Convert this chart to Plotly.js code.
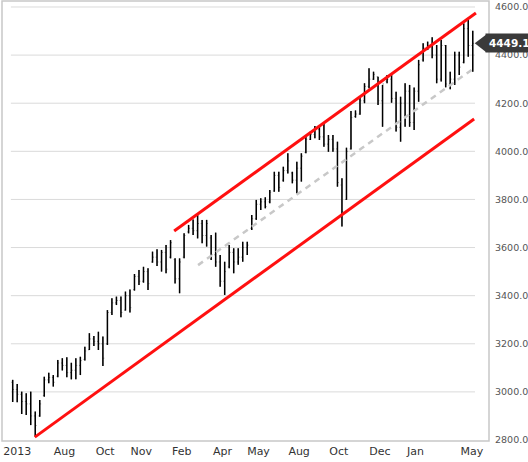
<!DOCTYPE html>
<html>
<head>
<meta charset="utf-8">
<script src="https://cdn.plot.ly/plotly-3.0.1.min.js"></script>
<style>
  html, body { margin: 0; padding: 0; background: #ffffff; }
  #chart { width: 528px; height: 462px; }
</style>
</head>
<body>
<div id="chart"></div>
<script>
// Weekly bars, index 0..102
var highs = [3050,3033,3001,2994,3001,2918,2966,3063,3080,3070,
             3133,3140,3144,3121,3140,3146,3188,3244,3232,3250,
             3230,3340,3389,3396,3396,3417,3426,3490,3507,3520,
             3514,3583,3593,3590,3611,3631,3555,3555,3659,3694,
             3717,3735,3715,3715,3652,3662,3569,3541,3611,3597,
             3597,3624,3624,3735,3798,3805,3809,3839,3915,3915,
             3936,3992,3915,3957,3992,4064,4082,4105,4102,4117,
             4068,4068,4040,3888,4015,4168,4170,4225,4283,4345,
             4331,4310,4276,4317,4317,4248,4227,4283,4276,4265,
             4380,4449,4456,4474,4442,4463,4442,4331,4414,4414,
             4532,4546,4501];
var lows  = [2958,2957,2908,2904,2862,2814,2897,2980,3036,3022,
             3061,3089,3061,3052,3052,3070,3130,3174,3191,3174,
             3108,3195,3320,3361,3310,3338,3330,3421,3444,3454,
             3424,3537,3523,3500,3493,3555,3451,3410,3555,3659,
             3652,3638,3618,3604,3548,3520,3437,3403,3514,3493,
             3528,3541,3569,3673,3715,3756,3763,3784,3832,3832,
             3874,3908,3867,3825,3874,3992,4047,4054,4047,4019,
             3998,3998,3853,3687,3798,4008,4140,4152,4200,4262,
             4297,4193,4102,4283,4202,4082,4040,4102,4102,4089,
             4206,4373,4421,4387,4283,4290,4266,4258,4276,4317,
             4366,4393,4331];
var opens = [3040,3010,2990,2960,2950,2900,2900,2985,3050,3060,
             3065,3120,3110,3080,3090,3110,3135,3175,3220,3210,
             3200,3200,3330,3370,3380,3340,3400,3425,3480,3460,
             3500,3540,3560,3540,3580,3560,3550,3470,3560,3665,
             3680,3670,3700,3650,3640,3570,3540,3460,3520,3580,
             3540,3560,3600,3680,3720,3780,3790,3790,3835,3900,
             3880,3920,3910,3880,3930,3995,4050,4070,4090,4060,
             4030,4050,4010,3860,3800,4010,4145,4155,4210,4270,
             4300,4310,4210,4290,4300,4220,4100,4200,4250,4120,
             4250,4380,4430,4440,4400,4300,4440,4280,4300,4400,
             4370,4510,4440];
var closes = [3010,2990,2960,2950,2900,2860,2950,3050,3060,3040,
              3120,3110,3080,3090,3110,3130,3170,3220,3210,3200,
              3140,3330,3370,3380,3330,3400,3350,3480,3460,3500,
              3450,3560,3540,3580,3510,3620,3470,3540,3650,3680,
              3670,3700,3650,3700,3570,3540,3460,3500,3580,3540,
              3560,3600,3610,3720,3780,3790,3770,3830,3900,3850,
              3920,3960,3880,3930,3980,4050,4070,4090,4060,4030,
              4050,4010,3870,3750,4000,4140,4155,4210,4270,4300,
              4320,4210,4280,4300,4220,4100,4200,4250,4120,4250,
              4360,4430,4440,4400,4300,4440,4280,4300,4400,4350,
              4510,4440,4449.1];

var tickWeeks  = [1, 11.5, 20.5, 28.5, 37.5, 46.5, 54.5, 63.5, 72.3, 81.4, 89.3, 101.8];
var tickLabels = ["2013","Aug","Oct","Nov","Feb","Apr","May","Aug","Oct","Dec","Jan","May"];

var priceLevels = [2800,3000,3200,3400,3600,3800,4000,4200,4400,4600];

// Channel lines (week index, price)
var upperX = [35.8, 102.7],  upperY = [3669, 4575];
var lowerX = [4.9, 102.3],   lowerY = [2812, 4134];
var midX   = [41.1, 102.3],  midY   = [3527, 4346];

var weeks = highs.map(function(_, i){ return i; });
var lastClose = closes[closes.length - 1];

var traces = [
  { type: 'scatter', mode: 'lines', x: midX, y: midY, hoverinfo: 'skip',
    line: { color: '#c8c8c8', width: 2.5, dash: '6px,5px' }, showlegend: false },
  { type: 'ohlc', x: weeks, open: opens, high: highs, low: lows, close: closes,
    tickwidth: 0.3, hoverinfo: 'skip', showlegend: false,
    increasing: { line: { color: '#8a8a8a', width: 1 } },
    decreasing: { line: { color: '#8a8a8a', width: 1 } } },
  { type: 'ohlc', x: weeks, open: opens, high: highs, low: lows, close: closes,
    tickwidth: 0, hoverinfo: 'skip', showlegend: false,
    increasing: { line: { color: '#000000', width: 1.5 } },
    decreasing: { line: { color: '#000000', width: 1.5 } } },
  { type: 'scatter', mode: 'lines', x: upperX, y: upperY, hoverinfo: 'skip',
    line: { color: '#ff1010', width: 3 }, showlegend: false },
  { type: 'scatter', mode: 'lines', x: lowerX, y: lowerY, hoverinfo: 'skip',
    line: { color: '#ff1010', width: 3 }, showlegend: false },
  { type: 'scatter', mode: 'markers', x: [104.1], y: [lastClose], hoverinfo: 'skip',
    cliponaxis: false, showlegend: false,
    marker: { symbol: 'triangle-left', size: 15, color: '#3a3a3a' } }
];

var shapes = priceLevels.slice(1).map(function(p){
  return { type: 'line', xref: 'x', yref: 'y', x0: -0.4, x1: 102.5, y0: p, y1: p,
           line: { color: '#dadada', width: 1 }, layer: 'below' };
});
shapes.push({ type: 'rect', xref: 'paper', yref: 'paper', x0: 0, x1: 1, y0: 0, y1: 1,
              line: { color: '#c8c8c8', width: 1.5 }, layer: 'below' });

var layout = {
  width: 528, height: 462,
  margin: { l: 2, r: 39, t: 1, b: 21, pad: 0 },
  paper_bgcolor: '#ffffff', plot_bgcolor: '#ffffff',
  showlegend: false,
  xaxis: {
    range: [-2.37, 105.6], showgrid: false, zeroline: false, showline: false,
    tickmode: 'array', tickvals: tickWeeks, ticktext: tickLabels,
    ticks: '', ticklabelstandoff: 2,
    tickfont: { family: 'DejaVu Sans, Verdana, sans-serif', size: 11, color: '#333333' },
    rangeslider: { visible: false }, fixedrange: true
  },
  yaxis: {
    range: [2795.8, 4624.9], side: 'right', showgrid: false, zeroline: false, showline: false,
    tickmode: 'array', tickvals: priceLevels,
    ticktext: priceLevels.map(function(p){ return p.toFixed(2); }),
    ticks: '', ticklabelstandoff: 5,
    tickfont: { family: 'DejaVu Sans, Verdana, sans-serif', size: 9.5, color: '#555555' },
    fixedrange: true
  },
  shapes: shapes,
  annotations: [{
    xref: 'paper', yref: 'y', x: 0.9918, y: lastClose, xanchor: 'left', yanchor: 'middle',
    showarrow: false, text: '<b>' + lastClose.toFixed(1) + '</b>',
    bgcolor: '#3a3a3a', borderpad: 3,
    font: { family: 'DejaVu Sans, Verdana, sans-serif', size: 10.5, color: '#ffffff' }
  }]
};

Plotly.newPlot('chart', traces, layout, { staticPlot: true, displayModeBar: false });
</script>
</body>
</html>
